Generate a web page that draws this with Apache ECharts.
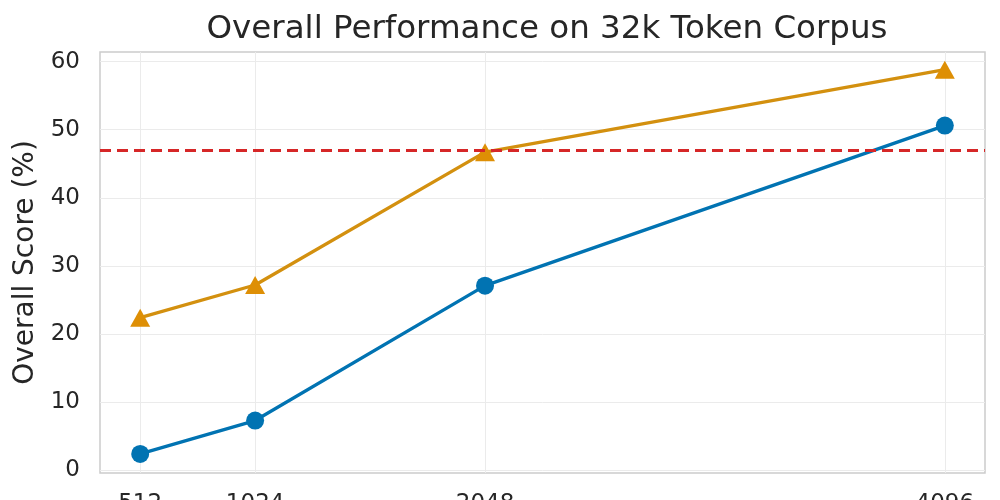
<!DOCTYPE html>
<html><head><meta charset="utf-8">
<script src="https://cdn.jsdelivr.net/npm/echarts@6/dist/echarts.min.js"></script>
<style>html,body{margin:0;padding:0;background:#fff}#c{width:1000px;height:500px}</style>
</head><body><div id="c"></div>
<script>
const contextLengths = [512, 1024, 2048, 4096];
const seriesA = [2.4, 7.3, 27.1, 50.6];      // blue circles
const seriesB = [22.4, 27.2, 46.7, 58.8];    // orange triangles
const referenceLine = 47.0;                  // red dashed
const yTicks = [0, 10, 20, 30, 40, 50, 60];

const FONT = '"DejaVu Sans", sans-serif';
const chart = echarts.init(document.getElementById('c'), null, {renderer: 'canvas'});
chart.setOption({
  animation: false,
  backgroundColor: '#ffffff',
  title: {
    text: 'Overall Performance on 32k Token Corpus',
    left: 542, top: 8, textAlign: 'center',
    textStyle: {fontFamily: FONT, fontSize: 32.5, fontWeight: 'normal', color: '#262626'}
  },
  grid: {left: 100, right: 15, top: 52, bottom: 27, show: true, outerBoundsMode: 'none',
         containLabel: false,
         borderColor: '#cccccc', borderWidth: 1.5, backgroundColor: 'transparent'},
  xAxis: {
    type: 'value', min: 333, max: 4275,
    axisLine: {show: false},
    axisTick: {show: false, customValues: contextLengths},
    axisLabel: {customValues: contextLengths, margin: 20, fontFamily: FONT, fontSize: 23, color: '#262626',
                formatter: v => String(v)},
    splitLine: {show: true, lineStyle: {color: '#ebebeb', width: 1}}
  },
  yAxis: {
    type: 'value', min: -0.4, max: 61.4,
    name: 'Overall Score (%)', nameLocation: 'middle', nameGap: 59,
    nameTextStyle: {fontFamily: FONT, fontSize: 28, color: '#262626'},
    axisLine: {show: false}, axisTick: {show: false, customValues: yTicks},
    axisLabel: {customValues: yTicks, margin: 20, fontFamily: FONT, fontSize: 23, color: '#262626',
                formatter: v => String(v)},
    splitLine: {show: true, lineStyle: {color: '#ebebeb', width: 1}}
  },
  series: [
    {
      type: 'line', data: contextLengths.map((x, i) => [x, seriesA[i]]),
      symbol: 'circle', symbolSize: 18,
      lineStyle: {color: '#0173b2', width: 3.3},
      itemStyle: {color: '#0173b2'}, z: 3
    },
    {
      type: 'line', data: contextLengths.map((x, i) => [x, seriesB[i]]),
      symbol: 'triangle', symbolSize: [20, 18],
      lineStyle: {color: '#d3900f', width: 3.3},
      itemStyle: {color: '#de8f05'}, z: 3,
      markLine: {
        silent: true, symbol: 'none', label: {show: false},
        lineStyle: {color: '#d62728', width: 2.8, type: [11, 6]},
        data: [{yAxis: referenceLine}]
      }
    }
  ]
});
</script></body></html>
